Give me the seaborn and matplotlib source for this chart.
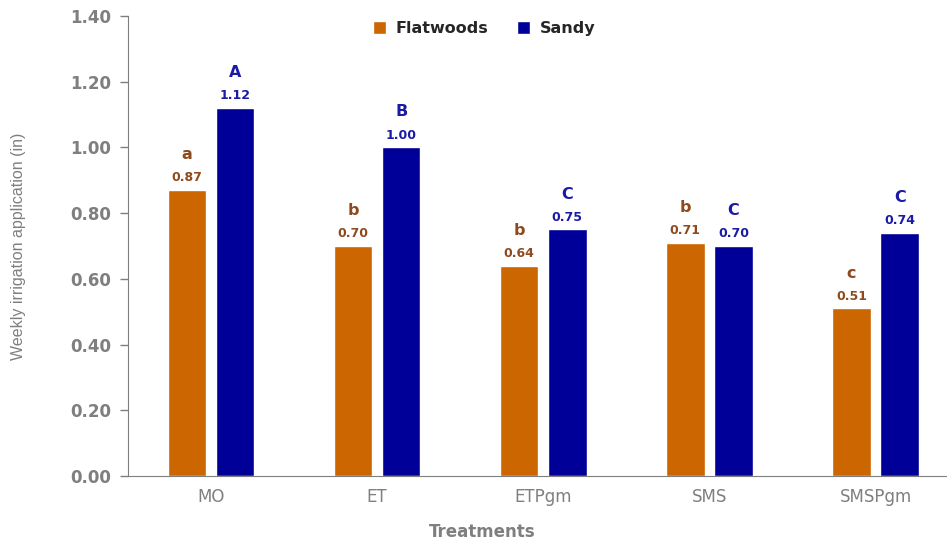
import pandas as pd
import matplotlib
matplotlib.use("Agg")
import matplotlib.pyplot as plt
import seaborn as sns

# Data
treatments = ["MO", "ET", "ETPgm", "SMS", "SMSPgm"]
flatwoods = [0.87, 0.70, 0.64, 0.71, 0.51]
sandy = [1.12, 1.00, 0.75, 0.70, 0.74]
flatwoods_letters = ["a", "b", "b", "b", "c"]
sandy_letters = ["A", "B", "C", "C", "C"]
soils = ["Flatwoods", "Sandy"]

df = pd.DataFrame({
    "Treatment": treatments * 2,
    "Soil": [soils[0]] * len(treatments) + [soils[1]] * len(treatments),
    "Value": flatwoods + sandy,
})

bar_colors = {"Flatwoods": "#CC6600", "Sandy": "#000099"}
label_colors = {"Flatwoods": "#8E4A1C", "Sandy": "#1A1AA6"}
gray = "#7F7F7F"

sns.set_style("white")
plt.rcParams['font.family'] = ['DejaVu Sans']

fig = plt.figure(figsize=(9.47, 5.44), dpi=100)
ax = fig.add_axes([0.135, 0.125, 0.865, 0.846])

sns.barplot(data=df, x="Treatment", y="Value", hue="Soil", order=treatments,
            hue_order=soils, palette=bar_colors, width=0.58, gap=0.2,
            saturation=1, errorbar=None, ax=ax)

# Value labels and significance letters
letters = {"Flatwoods": flatwoods_letters, "Sandy": sandy_letters}
for soil, container in zip(soils, ax.containers):
    for bar, letter in zip(container, letters[soil]):
        x = bar.get_x() + bar.get_width() / 2
        h = bar.get_height()
        ax.annotate(f"{h:.2f}", (x, h), xytext=(0, 4), textcoords="offset points",
                    ha="center", va="bottom", fontsize=9, fontweight="bold",
                    color=label_colors[soil])
        ax.annotate(letter, (x, h), xytext=(0, 20), textcoords="offset points",
                    ha="center", va="bottom", fontsize=11.5, fontweight="bold",
                    color=label_colors[soil])

ax.set_ylim(0, 1.4)
ax.set_yticks([0, 0.2, 0.4, 0.6, 0.8, 1.0, 1.2, 1.4])
ax.set_yticklabels([f"{v:.2f}" for v in ax.get_yticks()], fontsize=12,
                   fontweight="bold", color=gray)
ax.set_xlim(-0.5, 4.43)
ax.tick_params(axis="x", length=0, pad=9, labelsize=12, labelcolor=gray)
ax.tick_params(axis="y", direction="out", length=6, width=1, color=gray, pad=6, left=True)

ax.set_xlabel("Treatments", fontsize=12, fontweight="bold", color=gray)
ax.xaxis.set_label_coords(0.433, -0.103)
ax.set_ylabel("Weekly irrigation application (in)", fontsize=11.5, color=gray,
              family="Liberation Sans")
ax.yaxis.set_label_coords(-0.124, 0.5)

sns.despine(ax=ax, top=True, right=True)
ax.spines["left"].set_color(gray)
ax.spines["bottom"].set_color(gray)

leg = ax.legend(loc="upper center", bbox_to_anchor=(0.435, 1.02), ncol=2, frameon=False,
                handlelength=0.8, handleheight=0.8, columnspacing=1.8, handletextpad=0.6,
                prop={"weight": "bold", "size": 11.5})

fig.savefig("out.png", dpi=100)
